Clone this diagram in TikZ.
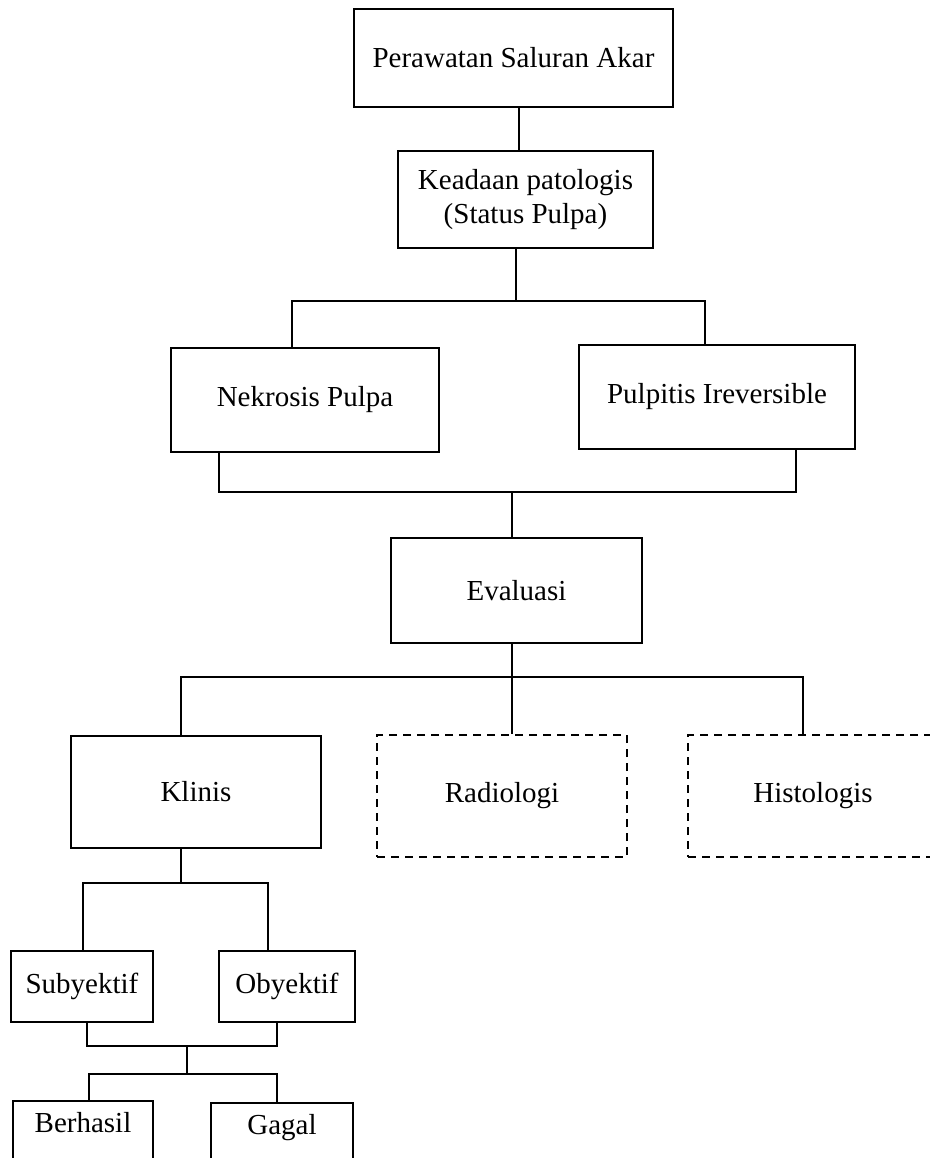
\documentclass[tikz,border=0pt]{standalone}
\usepackage{fontspec}
\setmainfont{Liberation Serif}

\tikzset{
  box/.style={draw, line width=0.9pt, inner sep=0pt, font=\fontsize{14.5}{17}\selectfont},
  dashbox/.style={box, dash pattern=on 4pt off 3pt},
  cutbox/.style={box, anchor=north, text height=16pt, text depth=25pt},
  link/.style={line width=0.9pt},
}

\begin{document}
\begin{tikzpicture}[x=0.5pt, y=-0.5pt]
\useasboundingbox (0,0) rectangle (930,1158);
\clip (0,0) rectangle (930,1158);

% boxes
\node [box, minimum width=159.5pt, minimum height=49pt] (akar) at (513.5,58) {Perawatan Saluran Akar};
\node [box, minimum width=127.5pt, minimum height=48.5pt, align=center] (status) at (525.5,199.5) {Keadaan patologis\\(Status Pulpa)};
\node [box, minimum width=134pt, minimum height=52pt] (nekrosis) at (305,400) {Nekrosis Pulpa};
\node [box, minimum width=138pt, minimum height=52pt] (pulpitis) at (717,397) {Pulpitis Ireversible};
\node [box, minimum width=125.5pt, minimum height=52.5pt] (evaluasi) at (516.5,590.5) {Evaluasi};
\node [box, minimum width=125pt, minimum height=56pt] (klinis) at (196,792) {Klinis};
\node [dashbox, minimum width=125pt, minimum height=61pt] (radiologi) at (502,796) {Radiologi};
\node [dashbox, minimum width=125pt, minimum height=61pt] (histologis) at (813,796) {Histologis};
\node [box, minimum width=71pt, minimum height=35.5pt] (subyektif) at (82,986.5) {Subyektif};
\node [box, minimum width=68pt, minimum height=35.5pt] (obyektif) at (287,986.5) {Obyektif};
\node [cutbox, minimum width=70pt] (berhasil) at (83,1100) {Berhasil};
\node [cutbox, minimum width=71pt] (gagal) at (282,1102) {Gagal};

% junctions
\coordinate (j1) at (516,301);
\coordinate (j2) at (512,492);
\coordinate (j3) at (512,677);
\coordinate (j4) at (181,883);
\coordinate (j5) at (187,1046);
\coordinate (j6) at (187,1074);

% connectors
\draw [link] ([xshift=2.75pt]akar.south) -- ([xshift=2.75pt]akar.south |- status.north);
\draw [link] (status.south -| j1) -- (j1);
\draw [link] ([xshift=-6.5pt]nekrosis.north) |- (j1) -| ([xshift=-6pt]pulpitis.north);
\draw [link] ([xshift=-43pt]nekrosis.south) |- (j2) -| ([xshift=39.5pt]pulpitis.south);
\draw [link] (j2) -- (j2 |- evaluasi.north);
\draw [link] (evaluasi.south -| j3) -- (j3);
\draw [link] ([xshift=-7.5pt]klinis.north) |- (j3) -| ([xshift=-5pt]histologis.north);
\draw [link] (j3) -- (j3 |- radiologi.north);
\draw [link] (klinis.south -| j4) -- (j4);
\draw [link] ([xshift=0.5pt]subyektif.north) |- (j4) -| ([xshift=-9.5pt]obyektif.north);
\draw [link] ([xshift=2.5pt]subyektif.south) |- (j5) -| ([xshift=-5pt]obyektif.south);
\draw [link] (j5) -- (j6);
\draw [link] ([xshift=3pt]berhasil.north) |- (j6) -| ([xshift=-2.5pt]gagal.north);
\end{tikzpicture}
\end{document}
